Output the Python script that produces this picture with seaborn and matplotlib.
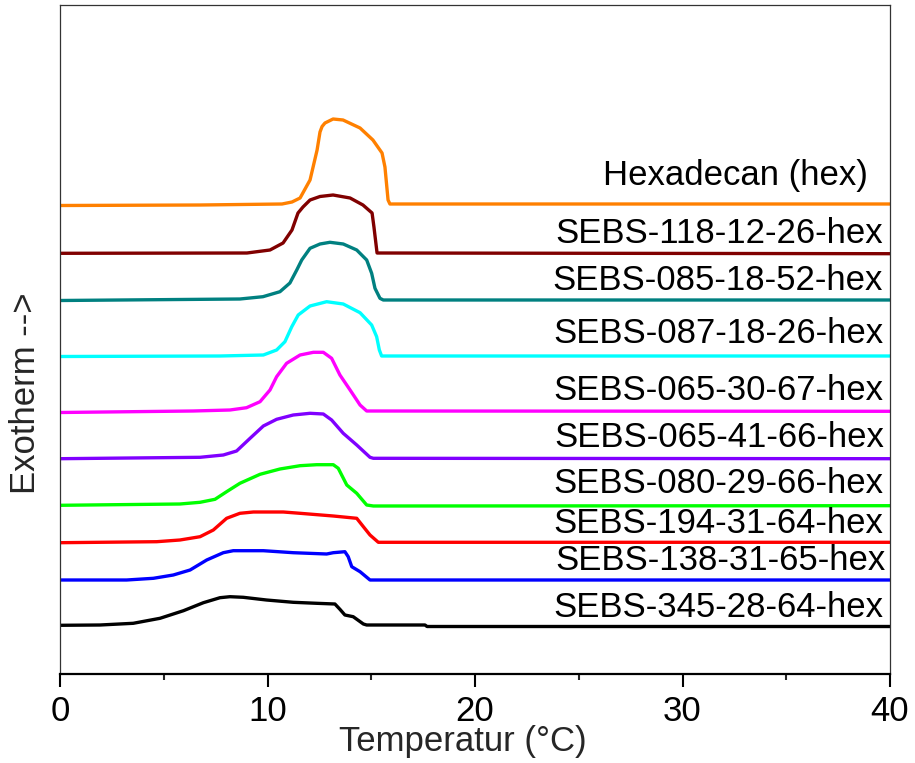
import numpy as np
import pandas as pd
import matplotlib
matplotlib.use("Agg")
import matplotlib.pyplot as plt
import seaborn as sns
from matplotlib.ticker import MultipleLocator

sns.set_theme(style="white")
plt.rcParams['font.family'] = ['Liberation Sans', 'DejaVu Sans']

# ---------------- data (temperature in °C, stacked DSC signal in a.u.) ----------------
samples = ["Hexadecan (hex)", "SEBS-118-12-26-hex", "SEBS-085-18-52-hex", "SEBS-087-18-26-hex",
           "SEBS-065-30-67-hex", "SEBS-065-41-66-hex", "SEBS-080-29-66-hex", "SEBS-194-31-64-hex",
           "SEBS-138-31-65-hex", "SEBS-345-28-64-hex"]
colors = ["#FF8000", "#800000", "#008080", "#00FFFF", "#FF00FF",
          "#8000FF", "#00FF00", "#FF0000", "#0000FF", "#000000"]

hex_T = [0, 6.75, 10.70, 11.18, 11.57, 12.05, 12.39, 12.53, 12.63, 12.77, 13.16, 13.64, 14.46, 15.08, 15.52, 15.66, 15.81, 15.90, 40]
hex_y = [46.85, 46.9, 47.0, 47.2, 47.6, 49.4, 52.4, 54.2, 54.75, 55.1, 55.5, 55.4, 54.6, 53.4, 52.1, 50.7, 47.4, 47.0, 47.0]

s118_T = [0, 9.01, 10.12, 10.75, 11.18, 11.47, 11.71, 12.05, 12.53, 13.16, 13.98, 14.60, 15.04, 15.13, 15.28, 40]
s118_y = [42.07, 42.1, 42.4, 43.1, 44.4, 46.1, 46.7, 47.4, 47.75, 47.9, 47.6, 46.9, 46.1, 44.7, 42.1, 42.03]

s085_T = [0, 8.67, 9.78, 10.60, 11.08, 11.41, 11.65, 12.05, 12.53, 13.01, 13.65, 14.30, 14.78, 15.02, 15.18, 15.42, 15.58, 40]
s085_y = [37.35, 37.5, 37.73, 38.23, 39.1, 40.4, 41.4, 42.57, 43.0, 43.17, 43.0, 42.4, 41.4, 40.07, 38.57, 37.57, 37.4, 37.4]

s087_T = [0, 7.71, 9.80, 10.44, 10.84, 11.17, 11.48, 12.05, 12.85, 13.65, 14.46, 15.02, 15.26, 15.39, 15.50, 40]
s087_y = [31.75, 31.8, 31.9, 32.4, 33.23, 34.73, 35.9, 36.8, 37.23, 37.0, 36.13, 34.9, 33.73, 32.4, 31.8, 31.8]

s065a_T = [0, 6.42, 8.19, 8.99, 9.64, 10.12, 10.44, 10.92, 11.57, 12.21, 12.69, 13.09, 13.49, 13.98, 14.46, 14.78, 40]
s065a_y = [26.15, 26.3, 26.4, 26.63, 27.23, 28.4, 29.73, 31.07, 31.9, 32.17, 32.17, 31.57, 29.9, 28.4, 26.9, 26.3, 26.27]

s065b_T = [0, 6.75, 7.87, 8.51, 9.16, 9.80, 10.44, 11.24, 12.05, 12.69, 13.09, 13.65, 14.30, 14.94, 15.10, 40]
s065b_y = [21.53, 21.67, 21.9, 22.3, 23.57, 24.8, 25.47, 25.9, 26.07, 26.0, 25.4, 24.07, 22.9, 21.67, 21.57, 21.53]

s080_T = [0, 5.78, 6.75, 7.47, 8.03, 8.67, 9.64, 10.60, 11.57, 12.37, 13.17, 13.41, 13.82, 14.30, 14.78, 15.10, 40]
s080_y = [16.87, 17.0, 17.17, 17.47, 18.23, 19.07, 19.97, 20.5, 20.83, 20.93, 20.93, 20.57, 18.9, 18.07, 16.9, 16.8, 16.83]

s194_T = [0, 4.66, 5.78, 6.75, 7.39, 8.03, 8.67, 9.32, 10.76, 11.57, 13.17, 14.30, 14.62, 14.94, 15.34, 40]
s194_y = [13.13, 13.23, 13.4, 13.73, 14.4, 15.57, 16.07, 16.2, 16.2, 16.07, 15.8, 15.57, 14.73, 13.9, 13.17, 13.17]

s138_T = [0, 3.21, 4.50, 5.46, 6.27, 7.07, 7.87, 8.35, 9.80, 11.24, 12.85, 13.17, 13.73, 13.89, 14.06, 14.46, 14.94, 40]
s138_y = [9.4, 9.4, 9.57, 9.9, 10.4, 11.4, 12.13, 12.33, 12.33, 12.13, 12.0, 12.13, 12.23, 11.73, 10.73, 10.23, 9.4, 9.4]

s345_T = [0, 1.93, 3.53, 4.82, 5.95, 6.91, 7.71, 8.19, 8.83, 9.95, 11.24, 12.37, 13.25, 13.49, 13.73, 14.13, 14.62, 14.78, 17.59, 17.69, 40]
s345_y = [4.87, 4.9, 5.07, 5.57, 6.33, 7.13, 7.63, 7.73, 7.67, 7.4, 7.17, 7.07, 7.0, 6.47, 5.9, 5.73, 5.0, 4.9, 4.9, 4.75, 4.75]

xticks = [0, 10, 20, 30, 40]

series = [(hex_T, hex_y), (s118_T, s118_y), (s085_T, s085_y), (s087_T, s087_y),
          (s065a_T, s065a_y), (s065b_T, s065b_y), (s080_T, s080_y), (s194_T, s194_y),
          (s138_T, s138_y), (s345_T, s345_y)]

frames = []
for name, (T, y) in zip(samples, series):
    frames.append(pd.DataFrame({"T": T, "signal": y, "sample": name}))
df = pd.concat(frames, ignore_index=True)

# ---------------- layout ----------------
label_x = [38.94, 39.66, 39.66, 39.7, 39.7, 39.7, 39.7, 39.66, 39.8, 39.7]
label_y = [48.9, 43.1, 38.4, 33.1, 27.4, 22.7, 18.1, 14.1, 10.4, 5.7]

fig = plt.figure(figsize=(9.15, 7.63), dpi=100)
ax = fig.add_axes([60/915, 1 - 674/763, 830/915, 669/763])

sns.lineplot(data=df, x="T", y="signal", hue="sample", hue_order=samples,
             palette=dict(zip(samples, colors)), units="sample", estimator=None,
             sort=False, legend=False, linewidth=2.4, ax=ax)
for ln in ax.lines:
    ln.set_solid_joinstyle("round")
    ln.set_solid_capstyle("round")

for name, lx, ly in zip(samples, label_x, label_y):
    ax.text(lx, ly, name, ha="right", va="baseline", fontsize=25, color="black")

ax.set_xlim(0, 40)
ax.set_ylim(0, 66.9)
ax.set_xticks(xticks)
ax.set_xticklabels([str(t) for t in xticks])
ax.xaxis.set_minor_locator(MultipleLocator(5))
ax.set_yticks([])
ax.set_xlabel("")
ax.set_ylabel("")
ax.tick_params(axis="x", which="major", direction="out", length=9, width=1.5,
               labelsize=25, pad=6, colors="black", bottom=True)
ax.tick_params(axis="x", which="minor", direction="out", length=4.5, width=1.5, bottom=True)
for side in ["top", "right", "left"]:
    ax.spines[side].set_linewidth(0.9)
    ax.spines[side].set_color("#333333")
ax.spines["bottom"].set_linewidth(1.6)
ax.spines["bottom"].set_color("black")

fig.text(463/915, 1 - 741/763, "Temperatur (°C)", ha="center", va="center", fontsize=25)
fig.text(26/915, 1 - 393/763, "Exotherm -->", ha="center", va="center", rotation=90, fontsize=25)

fig.savefig("out.png", dpi=100, facecolor="white")
